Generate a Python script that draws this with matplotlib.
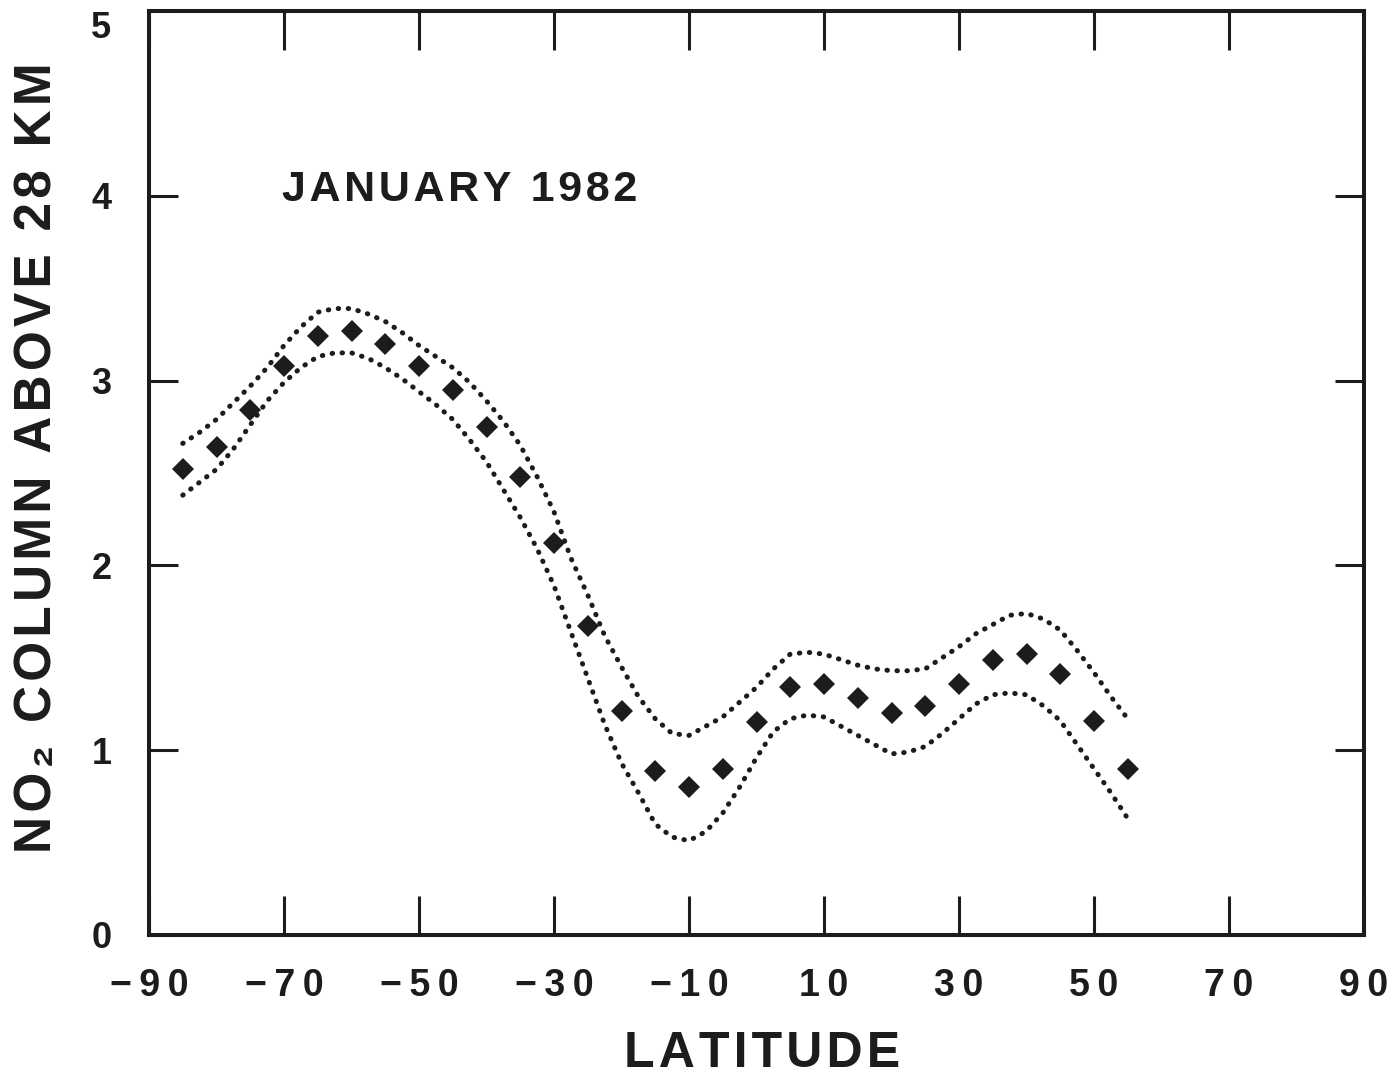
import matplotlib
matplotlib.use("Agg")
import matplotlib.pyplot as plt

plt.rcParams['font.family'] = ['Liberation Sans', 'DejaVu Sans']
plt.rcParams['font.weight'] = 'bold'

INK = '#1c1c1c'

# Zonal mean NO2 column above 28 km, January 1982
latitude = [-85, -80, -75, -70, -65, -60, -55, -50, -45, -40, -35, -30, -25, -20,
            -15, -10, -5, 0, 5, 10, 15, 20, 25, 30, 35, 40, 45, 50, 55]
no2_mean = [2.52, 2.64, 2.84, 3.08, 3.24, 3.27, 3.20, 3.08, 2.95, 2.75, 2.48, 2.12,
            1.67, 1.21, 0.89, 0.80, 0.90, 1.15, 1.34, 1.36, 1.28, 1.20, 1.24, 1.36,
            1.49, 1.52, 1.41, 1.16, 0.90]

# Envelope (mean +/- one standard deviation)
env_lat = [-85, -82.5, -80, -77.5, -75, -72.5, -70, -67.5, -65, -62.5, -60, -57.5,
           -55, -52.5, -50, -47.5, -45, -42.5, -40, -37.5, -35, -32.5, -30, -27.5,
           -25, -22.5, -20, -17.5, -15, -12.5, -10, -7.5, -5, -2.5, 0, 2.5, 5, 7.5,
           10, 12.5, 15, 17.5, 20, 22.5, 25, 27.5, 30, 32.5, 35, 37.5, 40, 42.5, 45,
           47.5, 50, 52.5, 55]
env_upper = [2.66, 2.72, 2.79, 2.88, 2.97, 3.07, 3.19, 3.29, 3.37, 3.39, 3.39, 3.36,
             3.32, 3.26, 3.19, 3.13, 3.07, 2.99, 2.89, 2.78, 2.65, 2.48, 2.29, 2.04,
             1.84, 1.62, 1.45, 1.29, 1.17, 1.09, 1.08, 1.13, 1.18, 1.26, 1.34, 1.44,
             1.52, 1.53, 1.52, 1.49, 1.46, 1.44, 1.43, 1.43, 1.44, 1.50, 1.56, 1.63,
             1.68, 1.73, 1.74, 1.71, 1.65, 1.54, 1.42, 1.29, 1.17]
env_lower = [2.38, 2.45, 2.52, 2.63, 2.76, 2.89, 2.99, 3.07, 3.13, 3.15, 3.15, 3.12,
             3.07, 3.01, 2.94, 2.87, 2.79, 2.68, 2.56, 2.41, 2.26, 2.09, 1.89, 1.64,
             1.39, 1.14, 0.93, 0.77, 0.60, 0.53, 0.51, 0.56, 0.66, 0.80, 0.96, 1.10,
             1.17, 1.19, 1.18, 1.13, 1.08, 1.03, 0.98, 0.99, 1.02, 1.09, 1.17, 1.25,
             1.30, 1.31, 1.30, 1.24, 1.16, 1.03, 0.90, 0.77, 0.63]

x_ticks = [-90, -70, -50, -30, -10, 10, 30, 50, 70, 90]
x_tick_labels = ['\u221290', '\u221270', '\u221250', '\u221230', '\u221210',
                 '10', '30', '50', '70', '90']
y_ticks = [0, 1, 2, 3, 4, 5]
y_tick_labels = ['0', '1', '2', '3', '4', '5']

title_text = 'JANUARY 1982'
x_label = 'LATITUDE'
y_label = 'NO\u2082 COLUMN ABOVE 28 KM'


def spaced(s, gap='\u2009'):
    return gap.join(s)


W, H = 1396, 1076
fig = plt.figure(figsize=(W / 100, H / 100), dpi=100)
fig.patch.set_facecolor('white')
ax = fig.add_axes([149 / W, 141 / H, (1364 - 149) / W, (935 - 11) / H])
ax.set_xlim(-90, 90)
ax.set_ylim(0, 5)

dot_style = dict(color=INK, linewidth=3.6, linestyle=(0, (0.1, 1.9)),
                 dash_capstyle='round', solid_capstyle='round')
ax.plot(env_lat, env_upper, **dot_style)
ax.plot(env_lat, env_lower, **dot_style)
ax.plot(latitude, no2_mean, linestyle='none', marker='D', markersize=11,
        color=INK, markeredgewidth=0)

for sp in ax.spines.values():
    sp.set_linewidth(2.9)
    sp.set_color(INK)

ax.set_xticks(x_ticks)
ax.set_xticklabels([spaced(t) for t in x_tick_labels], fontsize=27,
                   fontweight='bold', color=INK)
ax.set_yticks(y_ticks)
ax.set_yticklabels(y_tick_labels, fontsize=26, fontweight='bold', color=INK)
ax.tick_params(axis='x', direction='in', length=28, width=2.2, top=True,
               pad=24, color=INK)
ax.tick_params(axis='y', direction='in', length=21, width=2.2, right=True,
               pad=27, color=INK)
# the top label sits just below the frame corner
ax.get_yticklabels()[-1].set_verticalalignment('top')

ax.text(-70.3, 4.03, spaced(title_text, '\u200a'), fontsize=31, fontweight='bold',
        color=INK, ha='left', va='center')

fig.text(762 / W, 1 - 1054 / H, spaced(x_label, '\u200a'), fontsize=36,
         fontweight='bold', color=INK, ha='center', va='center')
fig.text(38 / W, 1 - 458 / H, spaced(y_label, '\u200a'), fontsize=37,
         fontweight='bold', color=INK, ha='center', va='center', rotation=90)

fig.savefig('out.png', dpi=100, facecolor='white')
